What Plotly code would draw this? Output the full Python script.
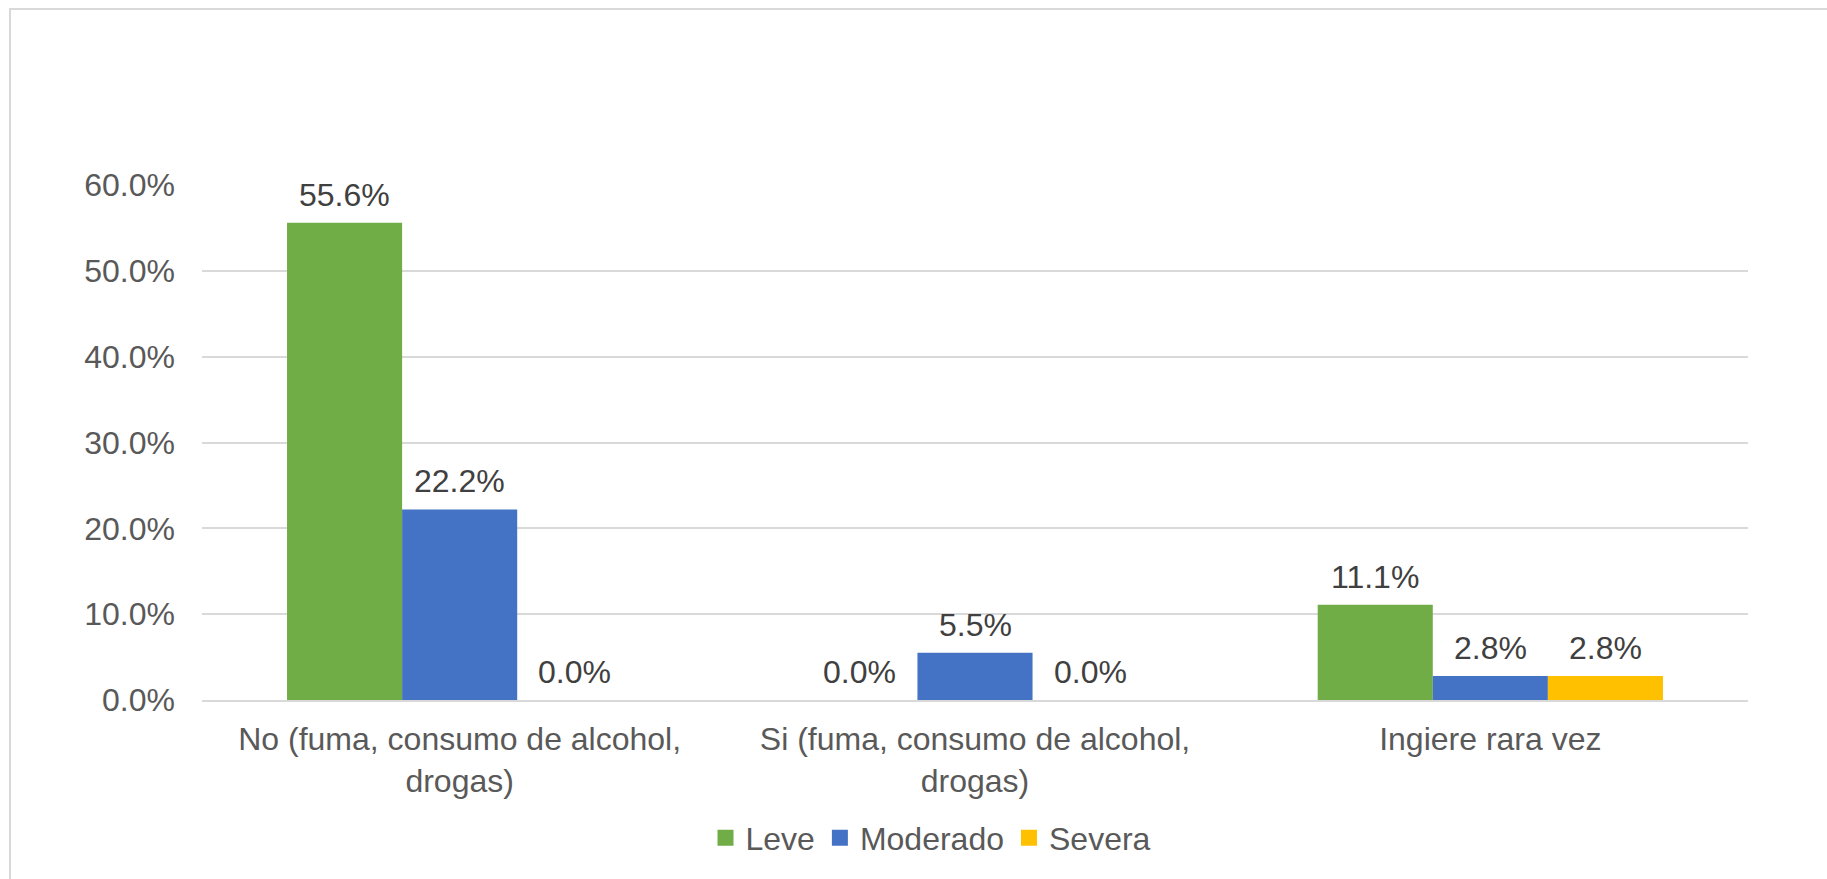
import plotly.graph_objects as go

# Categories and series (percentages)
categories = ["No (fuma, consumo de alcohol,<br>drogas)",
              "Si (fuma, consumo de alcohol,<br>drogas)",
              "Ingiere rara vez"]
leve = [55.6, 0.0, 11.1]
moderado = [22.2, 5.5, 2.8]
severa = [0.0, 0.0, 2.8]
series_names = ["Leve", "Moderado", "Severa"]
colors = ["#70AD47", "#4472C4", "#FFC000"]
y_ticks = [0, 10, 20, 30, 40, 50, 60]

FONT = "Liberation Sans, Arial, sans-serif"
FS = 32
W, H = 1827, 879
L, R, T, B = 202, 79, 185, 179
BARGAP = 0.33

fig = go.Figure()
series = [leve, moderado, severa]
for name, vals, col in zip(series_names, series, colors):
    fig.add_trace(go.Bar(
        x=list(range(len(categories))), y=vals, name=name,
        marker=dict(color=col, line=dict(width=0)),
        showlegend=False, hoverinfo="skip"))
    # legend entry with a larger square swatch
    fig.add_trace(go.Scatter(
        x=[None], y=[None], mode="markers", name=name,
        marker=dict(symbol="square", size=16, color=col)))

# value labels above each bar
n = len(series)
bw = (1 - BARGAP) / n
for i, vals in enumerate(series):
    off = (i - (n - 1) / 2) * bw
    for j, v in enumerate(vals):
        fig.add_annotation(
            x=j + off, y=v, text=f"{v:.1f}%", showarrow=False,
            xref="x", yref="y", yanchor="bottom", yshift=8,
            font=dict(family=FONT, size=FS, color="#404040"))

plot_w = W - L - R
plot_h = H - T - B
# outer chart border (left and top edges visible)
fig.add_shape(type="rect", xref="paper", yref="paper",
              x0=(10 - L) / plot_w, x1=(W + 20 - L) / plot_w,
              y0=-(H + 20 - T - plot_h) / plot_h, y1=(plot_h + T - 9) / plot_h,
              line=dict(color="#D9D9D9", width=2), layer="below")

fig.update_layout(
    width=W, height=H,
    margin=dict(l=L, r=R, t=T, b=B),
    plot_bgcolor="white", paper_bgcolor="white",
    barmode="group", bargap=BARGAP, bargroupgap=0,
    font=dict(family=FONT, size=FS, color="#595959"),
    xaxis=dict(
        tickmode="array", tickvals=list(range(len(categories))),
        ticktext=categories, range=[-0.5, len(categories) - 0.5],
        showgrid=False, zeroline=False, showline=True,
        linecolor="#D9D9D9", linewidth=1.5, ticks="",
        ticklabelstandoff=10,
        tickfont=dict(family=FONT, size=FS, color="#595959")),
    yaxis=dict(
        range=[0, 60], tickvals=y_ticks,
        ticktext=[f"{t:.1f}%" for t in y_ticks],
        showgrid=True, gridcolor="#D9D9D9", gridwidth=1.5,
        zeroline=False, showline=False, ticks="",
        ticklabelstandoff=26,
        tickfont=dict(family=FONT, size=FS, color="#595959")),
    legend=dict(orientation="h", x=(931 - L) / plot_w, xanchor="center",
                y=-(838 - T - plot_h) / plot_h, yanchor="middle",
                font=dict(family=FONT, size=FS, color="#595959"),
                itemwidth=30, bgcolor="rgba(0,0,0,0)"),
)

fig.write_html("out.html")
